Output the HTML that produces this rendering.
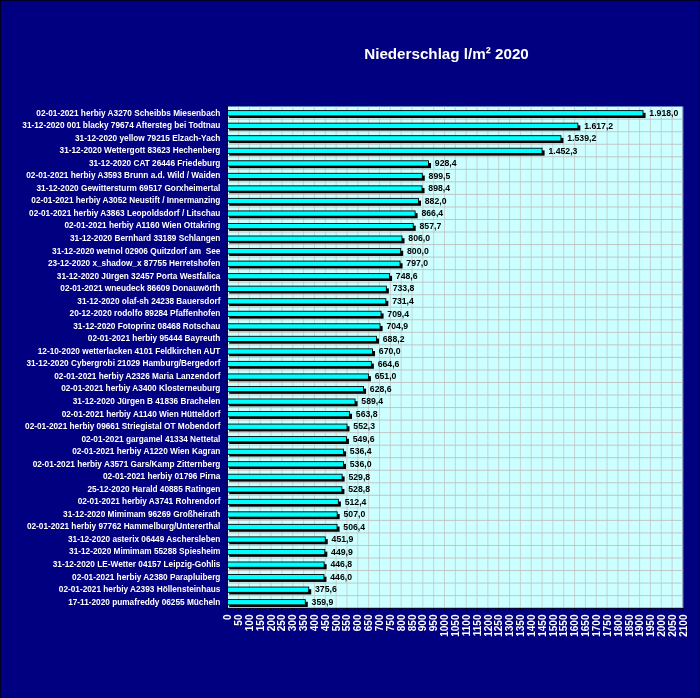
<!DOCTYPE html>
<html lang="de"><head><meta charset="utf-8"><title>Niederschlag l/m² 2020</title>
<style>
html,body{margin:0;padding:0;background:#000080;}
body{width:700px;height:698px;overflow:hidden;}
svg{display:block;}
text{font-family:"Liberation Sans",sans-serif;font-weight:bold;}
.cat{font-size:8.25px;fill:#fff;text-anchor:end;}
.val{font-size:8.7px;fill:#000;}
.tick{font-size:10.0px;fill:#fff;text-anchor:end;}
.title{font-size:15.2px;fill:#fff;}
</style></head><body>
<svg width="700" height="698" viewBox="0 0 700 698">
<rect x="0" y="0" width="700" height="698" fill="#000080"/>
<path d="M0 0.5H700M0.5 0V698" stroke="#000" stroke-opacity="0.7" stroke-width="1" fill="none"/>
<path d="M699.5 0V698" stroke="#000" stroke-opacity="0.3" stroke-width="1" fill="none"/>
<text class="title" x="364.2" y="59">Niederschlag l/m² 2020</text>
<rect x="227.4" y="106.5" width="455.20" height="501.50" fill="#CCFFFF"/>
<path d="M238.59 106.5V608.0M249.43 106.5V608.0M260.26 106.5V608.0M271.10 106.5V608.0M281.94 106.5V608.0M292.78 106.5V608.0M303.62 106.5V608.0M314.45 106.5V608.0M325.29 106.5V608.0M336.13 106.5V608.0M346.97 106.5V608.0M357.81 106.5V608.0M368.65 106.5V608.0M379.48 106.5V608.0M390.32 106.5V608.0M401.16 106.5V608.0M412.00 106.5V608.0M422.84 106.5V608.0M433.67 106.5V608.0M444.51 106.5V608.0M455.35 106.5V608.0M466.19 106.5V608.0M477.03 106.5V608.0M487.86 106.5V608.0M498.70 106.5V608.0M509.54 106.5V608.0M520.38 106.5V608.0M531.22 106.5V608.0M542.05 106.5V608.0M552.89 106.5V608.0M563.73 106.5V608.0M574.57 106.5V608.0M585.41 106.5V608.0M596.25 106.5V608.0M607.08 106.5V608.0M617.92 106.5V608.0M628.76 106.5V608.0M639.60 106.5V608.0M650.44 106.5V608.0M661.27 106.5V608.0M672.11 106.5V608.0M682.95 106.5V608.0" stroke="#C0C0C0" stroke-width="0.7" fill="none"/>
<path d="M227.4 119.19H682.6M227.4 131.72H682.6M227.4 144.26H682.6M227.4 156.80H682.6M227.4 169.34H682.6M227.4 181.88H682.6M227.4 194.41H682.6M227.4 206.95H682.6M227.4 219.49H682.6M227.4 232.03H682.6M227.4 244.56H682.6M227.4 257.10H682.6M227.4 269.64H682.6M227.4 282.17H682.6M227.4 294.71H682.6M227.4 307.25H682.6M227.4 319.79H682.6M227.4 332.32H682.6M227.4 344.86H682.6M227.4 357.40H682.6M227.4 369.94H682.6M227.4 382.47H682.6M227.4 395.01H682.6M227.4 407.55H682.6M227.4 420.09H682.6M227.4 432.62H682.6M227.4 445.16H682.6M227.4 457.70H682.6M227.4 470.24H682.6M227.4 482.77H682.6M227.4 495.31H682.6M227.4 507.85H682.6M227.4 520.39H682.6M227.4 532.92H682.6M227.4 545.46H682.6M227.4 558.00H682.6M227.4 570.54H682.6M227.4 583.07H682.6M227.4 595.61H682.6M227.4 607.60H682.6" stroke="#C0C0C0" stroke-width="0.9" fill="none"/>
<path d="M227.40 608.0v3M238.54 608.0v3M249.38 608.0v3M260.21 608.0v3M271.05 608.0v3M281.89 608.0v3M292.73 608.0v3M303.57 608.0v3M314.40 608.0v3M325.24 608.0v3M336.08 608.0v3M346.92 608.0v3M357.76 608.0v3M368.60 608.0v3M379.43 608.0v3M390.27 608.0v3M401.11 608.0v3M411.95 608.0v3M422.79 608.0v3M433.62 608.0v3M444.46 608.0v3M455.30 608.0v3M466.14 608.0v3M476.98 608.0v3M487.81 608.0v3M498.65 608.0v3M509.49 608.0v3M520.33 608.0v3M531.17 608.0v3M542.00 608.0v3M552.84 608.0v3M563.68 608.0v3M574.52 608.0v3M585.36 608.0v3M596.20 608.0v3M607.03 608.0v3M617.87 608.0v3M628.71 608.0v3M639.55 608.0v3M650.39 608.0v3M661.22 608.0v3M672.06 608.0v3M682.60 608.0v3M224.90 106.50h2.5M224.90 119.04h2.5M224.90 131.57h2.5M224.90 144.11h2.5M224.90 156.65h2.5M224.90 169.19h2.5M224.90 181.72h2.5M224.90 194.26h2.5M224.90 206.80h2.5M224.90 219.34h2.5M224.90 231.88h2.5M224.90 244.41h2.5M224.90 256.95h2.5M224.90 269.49h2.5M224.90 282.02h2.5M224.90 294.56h2.5M224.90 307.10h2.5M224.90 319.64h2.5M224.90 332.17h2.5M224.90 344.71h2.5M224.90 357.25h2.5M224.90 369.79h2.5M224.90 382.32h2.5M224.90 394.86h2.5M224.90 407.40h2.5M224.90 419.94h2.5M224.90 432.47h2.5M224.90 445.01h2.5M224.90 457.55h2.5M224.90 470.09h2.5M224.90 482.62h2.5M224.90 495.16h2.5M224.90 507.70h2.5M224.90 520.24h2.5M224.90 532.77h2.5M224.90 545.31h2.5M224.90 557.85h2.5M224.90 570.39h2.5M224.90 582.92h2.5M224.90 595.46h2.5M224.90 608.00h2.5" stroke="#000" stroke-opacity="0.65" stroke-width="1" fill="none"/>
<rect x="229.20" y="112.82" width="416.35" height="5.2" fill="#000"/>
<rect x="227.40" y="110.62" width="415.65" height="5.3" fill="#00FFFF" stroke="#000" stroke-width="0.9"/>
<text class="val" x="649.35" y="115.97">1.918,0</text>
<text class="cat" x="220.4" y="115.62" xml:space="preserve">02-01-2021 herbiy A3270 Scheibbs Miesenbach</text>
<rect x="229.20" y="125.36" width="351.15" height="5.2" fill="#000"/>
<rect x="227.40" y="123.16" width="350.45" height="5.3" fill="#00FFFF" stroke="#000" stroke-width="0.9"/>
<text class="val" x="584.15" y="128.51">1.617,2</text>
<text class="cat" x="220.4" y="128.16" xml:space="preserve">31-12-2020 001 blacky 79674 Aftersteg bei Todtnau</text>
<rect x="229.20" y="137.89" width="334.24" height="5.2" fill="#000"/>
<rect x="227.40" y="135.69" width="333.54" height="5.3" fill="#00FFFF" stroke="#000" stroke-width="0.9"/>
<text class="val" x="567.24" y="141.04">1.539,2</text>
<text class="cat" x="220.4" y="140.69" xml:space="preserve">31-12-2020 yellow 79215 Elzach-Yach</text>
<rect x="229.20" y="150.43" width="315.40" height="5.2" fill="#000"/>
<rect x="227.40" y="148.23" width="314.70" height="5.3" fill="#00FFFF" stroke="#000" stroke-width="0.9"/>
<text class="val" x="548.40" y="153.58">1.452,3</text>
<text class="cat" x="220.4" y="153.23" xml:space="preserve">31-12-2020 Wettergott 83623 Hechenberg</text>
<rect x="229.20" y="162.97" width="201.84" height="5.2" fill="#000"/>
<rect x="227.40" y="160.77" width="201.14" height="5.3" fill="#00FFFF" stroke="#000" stroke-width="0.9"/>
<text class="val" x="434.84" y="166.12">928,4</text>
<text class="cat" x="220.4" y="165.77" xml:space="preserve">31-12-2020 CAT 26446 Friedeburg</text>
<rect x="229.20" y="175.51" width="195.58" height="5.2" fill="#000"/>
<rect x="227.40" y="173.31" width="194.88" height="5.3" fill="#00FFFF" stroke="#000" stroke-width="0.9"/>
<text class="val" x="428.58" y="178.66">899,5</text>
<text class="cat" x="220.4" y="178.31" xml:space="preserve">02-01-2021 herbiy A3593 Brunn a.d. Wild / Waiden</text>
<rect x="229.20" y="188.04" width="195.34" height="5.2" fill="#000"/>
<rect x="227.40" y="185.84" width="194.64" height="5.3" fill="#00FFFF" stroke="#000" stroke-width="0.9"/>
<text class="val" x="428.34" y="191.19">898,4</text>
<text class="cat" x="220.4" y="190.84" xml:space="preserve">31-12-2020 Gewittersturm 69517 Gorxheimertal</text>
<rect x="229.20" y="200.58" width="191.78" height="5.2" fill="#000"/>
<rect x="227.40" y="198.38" width="191.08" height="5.3" fill="#00FFFF" stroke="#000" stroke-width="0.9"/>
<text class="val" x="424.78" y="203.73">882,0</text>
<text class="cat" x="220.4" y="203.38" xml:space="preserve">02-01-2021 herbiy A3052 Neustift / Innermanzing</text>
<rect x="229.20" y="213.12" width="188.40" height="5.2" fill="#000"/>
<rect x="227.40" y="210.92" width="187.70" height="5.3" fill="#00FFFF" stroke="#000" stroke-width="0.9"/>
<text class="val" x="421.40" y="216.27">866,4</text>
<text class="cat" x="220.4" y="215.92" xml:space="preserve">02-01-2021 herbiy A3863 Leopoldsdorf / Litschau</text>
<rect x="229.20" y="225.66" width="186.52" height="5.2" fill="#000"/>
<rect x="227.40" y="223.46" width="185.82" height="5.3" fill="#00FFFF" stroke="#000" stroke-width="0.9"/>
<text class="val" x="419.52" y="228.81">857,7</text>
<text class="cat" x="220.4" y="228.46" xml:space="preserve">02-01-2021 herbiy A1160 Wien Ottakring</text>
<rect x="229.20" y="238.19" width="175.31" height="5.2" fill="#000"/>
<rect x="227.40" y="235.99" width="174.61" height="5.3" fill="#00FFFF" stroke="#000" stroke-width="0.9"/>
<text class="val" x="408.31" y="241.34">806,0</text>
<text class="cat" x="220.4" y="240.99" xml:space="preserve">31-12-2020 Bernhard 33189 Schlangen</text>
<rect x="229.20" y="250.73" width="174.01" height="5.2" fill="#000"/>
<rect x="227.40" y="248.53" width="173.31" height="5.3" fill="#00FFFF" stroke="#000" stroke-width="0.9"/>
<text class="val" x="407.01" y="253.88">800,0</text>
<text class="cat" x="220.4" y="253.53" xml:space="preserve">31-12-2020 wetnol 02906 Quitzdorf am  See</text>
<rect x="229.20" y="263.27" width="173.36" height="5.2" fill="#000"/>
<rect x="227.40" y="261.07" width="172.66" height="5.3" fill="#00FFFF" stroke="#000" stroke-width="0.9"/>
<text class="val" x="406.36" y="266.42">797,0</text>
<text class="cat" x="220.4" y="266.07" xml:space="preserve">23-12-2020 x_shadow_x 87755 Herretshofen</text>
<rect x="229.20" y="275.81" width="162.87" height="5.2" fill="#000"/>
<rect x="227.40" y="273.61" width="162.17" height="5.3" fill="#00FFFF" stroke="#000" stroke-width="0.9"/>
<text class="val" x="395.87" y="278.96">748,6</text>
<text class="cat" x="220.4" y="278.61" xml:space="preserve">31-12-2020 Jürgen 32457 Porta Westfalica</text>
<rect x="229.20" y="288.34" width="159.66" height="5.2" fill="#000"/>
<rect x="227.40" y="286.14" width="158.96" height="5.3" fill="#00FFFF" stroke="#000" stroke-width="0.9"/>
<text class="val" x="392.66" y="291.49">733,8</text>
<text class="cat" x="220.4" y="291.14" xml:space="preserve">02-01-2021 wneudeck 86609 Donauwörth</text>
<rect x="229.20" y="300.88" width="159.14" height="5.2" fill="#000"/>
<rect x="227.40" y="298.68" width="158.44" height="5.3" fill="#00FFFF" stroke="#000" stroke-width="0.9"/>
<text class="val" x="392.14" y="304.03">731,4</text>
<text class="cat" x="220.4" y="303.68" xml:space="preserve">31-12-2020 olaf-sh 24238 Bauersdorf</text>
<rect x="229.20" y="313.42" width="154.37" height="5.2" fill="#000"/>
<rect x="227.40" y="311.22" width="153.67" height="5.3" fill="#00FFFF" stroke="#000" stroke-width="0.9"/>
<text class="val" x="387.37" y="316.57">709,4</text>
<text class="cat" x="220.4" y="316.22" xml:space="preserve">20-12-2020 rodolfo 89284 Pfaffenhofen</text>
<rect x="229.20" y="325.96" width="153.40" height="5.2" fill="#000"/>
<rect x="227.40" y="323.76" width="152.70" height="5.3" fill="#00FFFF" stroke="#000" stroke-width="0.9"/>
<text class="val" x="386.40" y="329.11">704,9</text>
<text class="cat" x="220.4" y="328.76" xml:space="preserve">31-12-2020 Fotoprinz 08468 Rotschau</text>
<rect x="229.20" y="338.49" width="149.78" height="5.2" fill="#000"/>
<rect x="227.40" y="336.29" width="149.08" height="5.3" fill="#00FFFF" stroke="#000" stroke-width="0.9"/>
<text class="val" x="382.78" y="341.64">688,2</text>
<text class="cat" x="220.4" y="341.29" xml:space="preserve">02-01-2021 herbiy 95444 Bayreuth</text>
<rect x="229.20" y="351.03" width="145.83" height="5.2" fill="#000"/>
<rect x="227.40" y="348.83" width="145.13" height="5.3" fill="#00FFFF" stroke="#000" stroke-width="0.9"/>
<text class="val" x="378.83" y="354.18">670,0</text>
<text class="cat" x="220.4" y="353.83" xml:space="preserve">12-10-2020 wetterlacken 4101 Feldkirchen AUT</text>
<rect x="229.20" y="363.57" width="144.66" height="5.2" fill="#000"/>
<rect x="227.40" y="361.37" width="143.96" height="5.3" fill="#00FFFF" stroke="#000" stroke-width="0.9"/>
<text class="val" x="377.66" y="366.72">664,6</text>
<text class="cat" x="220.4" y="366.37" xml:space="preserve">31-12-2020 Cybergrobi 21029 Hamburg/Bergedorf</text>
<rect x="229.20" y="376.11" width="141.71" height="5.2" fill="#000"/>
<rect x="227.40" y="373.91" width="141.01" height="5.3" fill="#00FFFF" stroke="#000" stroke-width="0.9"/>
<text class="val" x="374.71" y="379.26">651,0</text>
<text class="cat" x="220.4" y="378.91" xml:space="preserve">02-01-2021 herbiy A2326 Maria Lanzendorf</text>
<rect x="229.20" y="388.64" width="136.86" height="5.2" fill="#000"/>
<rect x="227.40" y="386.44" width="136.16" height="5.3" fill="#00FFFF" stroke="#000" stroke-width="0.9"/>
<text class="val" x="369.86" y="391.79">628,6</text>
<text class="cat" x="220.4" y="391.44" xml:space="preserve">02-01-2021 herbiy A3400 Klosterneuburg</text>
<rect x="229.20" y="401.18" width="128.36" height="5.2" fill="#000"/>
<rect x="227.40" y="398.98" width="127.66" height="5.3" fill="#00FFFF" stroke="#000" stroke-width="0.9"/>
<text class="val" x="361.36" y="404.33">589,4</text>
<text class="cat" x="220.4" y="403.98" xml:space="preserve">31-12-2020 Jürgen B 41836 Brachelen</text>
<rect x="229.20" y="413.72" width="122.81" height="5.2" fill="#000"/>
<rect x="227.40" y="411.52" width="122.11" height="5.3" fill="#00FFFF" stroke="#000" stroke-width="0.9"/>
<text class="val" x="355.81" y="416.87">563,8</text>
<text class="cat" x="220.4" y="416.52" xml:space="preserve">02-01-2021 herbiy A1140 Wien Hütteldorf</text>
<rect x="229.20" y="426.26" width="120.32" height="5.2" fill="#000"/>
<rect x="227.40" y="424.06" width="119.62" height="5.3" fill="#00FFFF" stroke="#000" stroke-width="0.9"/>
<text class="val" x="353.32" y="429.41">552,3</text>
<text class="cat" x="220.4" y="429.06" xml:space="preserve">02-01-2021 herbiy 09661 Striegistal OT Mobendorf</text>
<rect x="229.20" y="438.79" width="119.73" height="5.2" fill="#000"/>
<rect x="227.40" y="436.59" width="119.03" height="5.3" fill="#00FFFF" stroke="#000" stroke-width="0.9"/>
<text class="val" x="352.73" y="441.94">549,6</text>
<text class="cat" x="220.4" y="441.59" xml:space="preserve">02-01-2021 gargamel 41334 Nettetal</text>
<rect x="229.20" y="451.33" width="116.87" height="5.2" fill="#000"/>
<rect x="227.40" y="449.13" width="116.17" height="5.3" fill="#00FFFF" stroke="#000" stroke-width="0.9"/>
<text class="val" x="349.87" y="454.48">536,4</text>
<text class="cat" x="220.4" y="454.13" xml:space="preserve">02-01-2021 herbiy A1220 Wien Kagran</text>
<rect x="229.20" y="463.87" width="116.78" height="5.2" fill="#000"/>
<rect x="227.40" y="461.67" width="116.08" height="5.3" fill="#00FFFF" stroke="#000" stroke-width="0.9"/>
<text class="val" x="349.78" y="467.02">536,0</text>
<text class="cat" x="220.4" y="466.67" xml:space="preserve">02-01-2021 herbiy A3571 Gars/Kamp Zitternberg</text>
<rect x="229.20" y="476.41" width="115.44" height="5.2" fill="#000"/>
<rect x="227.40" y="474.21" width="114.74" height="5.3" fill="#00FFFF" stroke="#000" stroke-width="0.9"/>
<text class="val" x="348.44" y="479.56">529,8</text>
<text class="cat" x="220.4" y="479.21" xml:space="preserve">02-01-2021 herbiy 01796 Pirna</text>
<rect x="229.20" y="488.94" width="115.22" height="5.2" fill="#000"/>
<rect x="227.40" y="486.74" width="114.52" height="5.3" fill="#00FFFF" stroke="#000" stroke-width="0.9"/>
<text class="val" x="348.22" y="492.09">528,8</text>
<text class="cat" x="220.4" y="491.74" xml:space="preserve">25-12-2020 Harald 40885 Ratingen</text>
<rect x="229.20" y="501.48" width="111.67" height="5.2" fill="#000"/>
<rect x="227.40" y="499.28" width="110.97" height="5.3" fill="#00FFFF" stroke="#000" stroke-width="0.9"/>
<text class="val" x="344.67" y="504.63">512,4</text>
<text class="cat" x="220.4" y="504.28" xml:space="preserve">02-01-2021 herbiy A3741 Rohrendorf</text>
<rect x="229.20" y="514.02" width="110.50" height="5.2" fill="#000"/>
<rect x="227.40" y="511.82" width="109.80" height="5.3" fill="#00FFFF" stroke="#000" stroke-width="0.9"/>
<text class="val" x="343.50" y="517.17">507,0</text>
<text class="cat" x="220.4" y="516.82" xml:space="preserve">31-12-2020 Mimimam 96269 Großheirath</text>
<rect x="229.20" y="526.56" width="110.37" height="5.2" fill="#000"/>
<rect x="227.40" y="524.36" width="109.67" height="5.3" fill="#00FFFF" stroke="#000" stroke-width="0.9"/>
<text class="val" x="343.37" y="529.71">506,4</text>
<text class="cat" x="220.4" y="529.36" xml:space="preserve">02-01-2021 herbiy 97762 Hammelburg/Untererthal</text>
<rect x="229.20" y="539.09" width="98.55" height="5.2" fill="#000"/>
<rect x="227.40" y="536.89" width="97.85" height="5.3" fill="#00FFFF" stroke="#000" stroke-width="0.9"/>
<text class="val" x="331.55" y="542.24">451,9</text>
<text class="cat" x="220.4" y="541.89" xml:space="preserve">31-12-2020 asterix 06449 Aschersleben</text>
<rect x="229.20" y="551.63" width="98.12" height="5.2" fill="#000"/>
<rect x="227.40" y="549.43" width="97.42" height="5.3" fill="#00FFFF" stroke="#000" stroke-width="0.9"/>
<text class="val" x="331.12" y="554.78">449,9</text>
<text class="cat" x="220.4" y="554.43" xml:space="preserve">31-12-2020 Mimimam 55288 Spiesheim</text>
<rect x="229.20" y="564.17" width="97.45" height="5.2" fill="#000"/>
<rect x="227.40" y="561.97" width="96.75" height="5.3" fill="#00FFFF" stroke="#000" stroke-width="0.9"/>
<text class="val" x="330.45" y="567.32">446,8</text>
<text class="cat" x="220.4" y="566.97" xml:space="preserve">31-12-2020 LE-Wetter 04157 Leipzig-Gohlis</text>
<rect x="229.20" y="576.71" width="97.28" height="5.2" fill="#000"/>
<rect x="227.40" y="574.51" width="96.58" height="5.3" fill="#00FFFF" stroke="#000" stroke-width="0.9"/>
<text class="val" x="330.28" y="579.86">446,0</text>
<text class="cat" x="220.4" y="579.51" xml:space="preserve">02-01-2021 herbiy A2380 Parapluiberg</text>
<rect x="229.20" y="589.24" width="82.02" height="5.2" fill="#000"/>
<rect x="227.40" y="587.04" width="81.32" height="5.3" fill="#00FFFF" stroke="#000" stroke-width="0.9"/>
<text class="val" x="315.02" y="592.39">375,6</text>
<text class="cat" x="220.4" y="592.04" xml:space="preserve">02-01-2021 herbiy A2393 Höllensteinhaus</text>
<rect x="229.20" y="601.78" width="78.61" height="5.2" fill="#000"/>
<rect x="227.40" y="599.58" width="77.91" height="5.3" fill="#00FFFF" stroke="#000" stroke-width="0.9"/>
<text class="val" x="311.61" y="604.93">359,9</text>
<text class="cat" x="220.4" y="604.58" xml:space="preserve">17-11-2020 pumafreddy 06255 Mücheln</text>
<path d="M227.4 106.0V608.0" stroke="#000" stroke-width="1" fill="none"/>
<path d="M226.9 608.4H682.6" stroke="#000" stroke-opacity="0.8" stroke-width="0.8" fill="none"/>
<text class="tick" transform="translate(231.10,614.5) rotate(-90)">0</text>
<text class="tick" transform="translate(241.95,614.5) rotate(-90)">50</text>
<text class="tick" transform="translate(252.80,614.5) rotate(-90)">100</text>
<text class="tick" transform="translate(263.65,614.5) rotate(-90)">150</text>
<text class="tick" transform="translate(274.50,614.5) rotate(-90)">200</text>
<text class="tick" transform="translate(285.35,614.5) rotate(-90)">250</text>
<text class="tick" transform="translate(296.20,614.5) rotate(-90)">300</text>
<text class="tick" transform="translate(307.05,614.5) rotate(-90)">350</text>
<text class="tick" transform="translate(317.90,614.5) rotate(-90)">400</text>
<text class="tick" transform="translate(328.75,614.5) rotate(-90)">450</text>
<text class="tick" transform="translate(339.60,614.5) rotate(-90)">500</text>
<text class="tick" transform="translate(350.45,614.5) rotate(-90)">550</text>
<text class="tick" transform="translate(361.30,614.5) rotate(-90)">600</text>
<text class="tick" transform="translate(372.15,614.5) rotate(-90)">650</text>
<text class="tick" transform="translate(383.00,614.5) rotate(-90)">700</text>
<text class="tick" transform="translate(393.85,614.5) rotate(-90)">750</text>
<text class="tick" transform="translate(404.70,614.5) rotate(-90)">800</text>
<text class="tick" transform="translate(415.55,614.5) rotate(-90)">850</text>
<text class="tick" transform="translate(426.40,614.5) rotate(-90)">900</text>
<text class="tick" transform="translate(437.25,614.5) rotate(-90)">950</text>
<text class="tick" transform="translate(448.10,614.5) rotate(-90)">1000</text>
<text class="tick" transform="translate(458.95,614.5) rotate(-90)">1050</text>
<text class="tick" transform="translate(469.80,614.5) rotate(-90)">1100</text>
<text class="tick" transform="translate(480.65,614.5) rotate(-90)">1150</text>
<text class="tick" transform="translate(491.50,614.5) rotate(-90)">1200</text>
<text class="tick" transform="translate(502.35,614.5) rotate(-90)">1250</text>
<text class="tick" transform="translate(513.20,614.5) rotate(-90)">1300</text>
<text class="tick" transform="translate(524.05,614.5) rotate(-90)">1350</text>
<text class="tick" transform="translate(534.90,614.5) rotate(-90)">1400</text>
<text class="tick" transform="translate(545.75,614.5) rotate(-90)">1450</text>
<text class="tick" transform="translate(556.60,614.5) rotate(-90)">1500</text>
<text class="tick" transform="translate(567.45,614.5) rotate(-90)">1550</text>
<text class="tick" transform="translate(578.30,614.5) rotate(-90)">1600</text>
<text class="tick" transform="translate(589.15,614.5) rotate(-90)">1650</text>
<text class="tick" transform="translate(600.00,614.5) rotate(-90)">1700</text>
<text class="tick" transform="translate(610.85,614.5) rotate(-90)">1750</text>
<text class="tick" transform="translate(621.70,614.5) rotate(-90)">1800</text>
<text class="tick" transform="translate(632.55,614.5) rotate(-90)">1850</text>
<text class="tick" transform="translate(643.40,614.5) rotate(-90)">1900</text>
<text class="tick" transform="translate(654.25,614.5) rotate(-90)">1950</text>
<text class="tick" transform="translate(665.10,614.5) rotate(-90)">2000</text>
<text class="tick" transform="translate(675.95,614.5) rotate(-90)">2050</text>
<text class="tick" transform="translate(686.80,614.5) rotate(-90)">2100</text>
</svg></body></html>
